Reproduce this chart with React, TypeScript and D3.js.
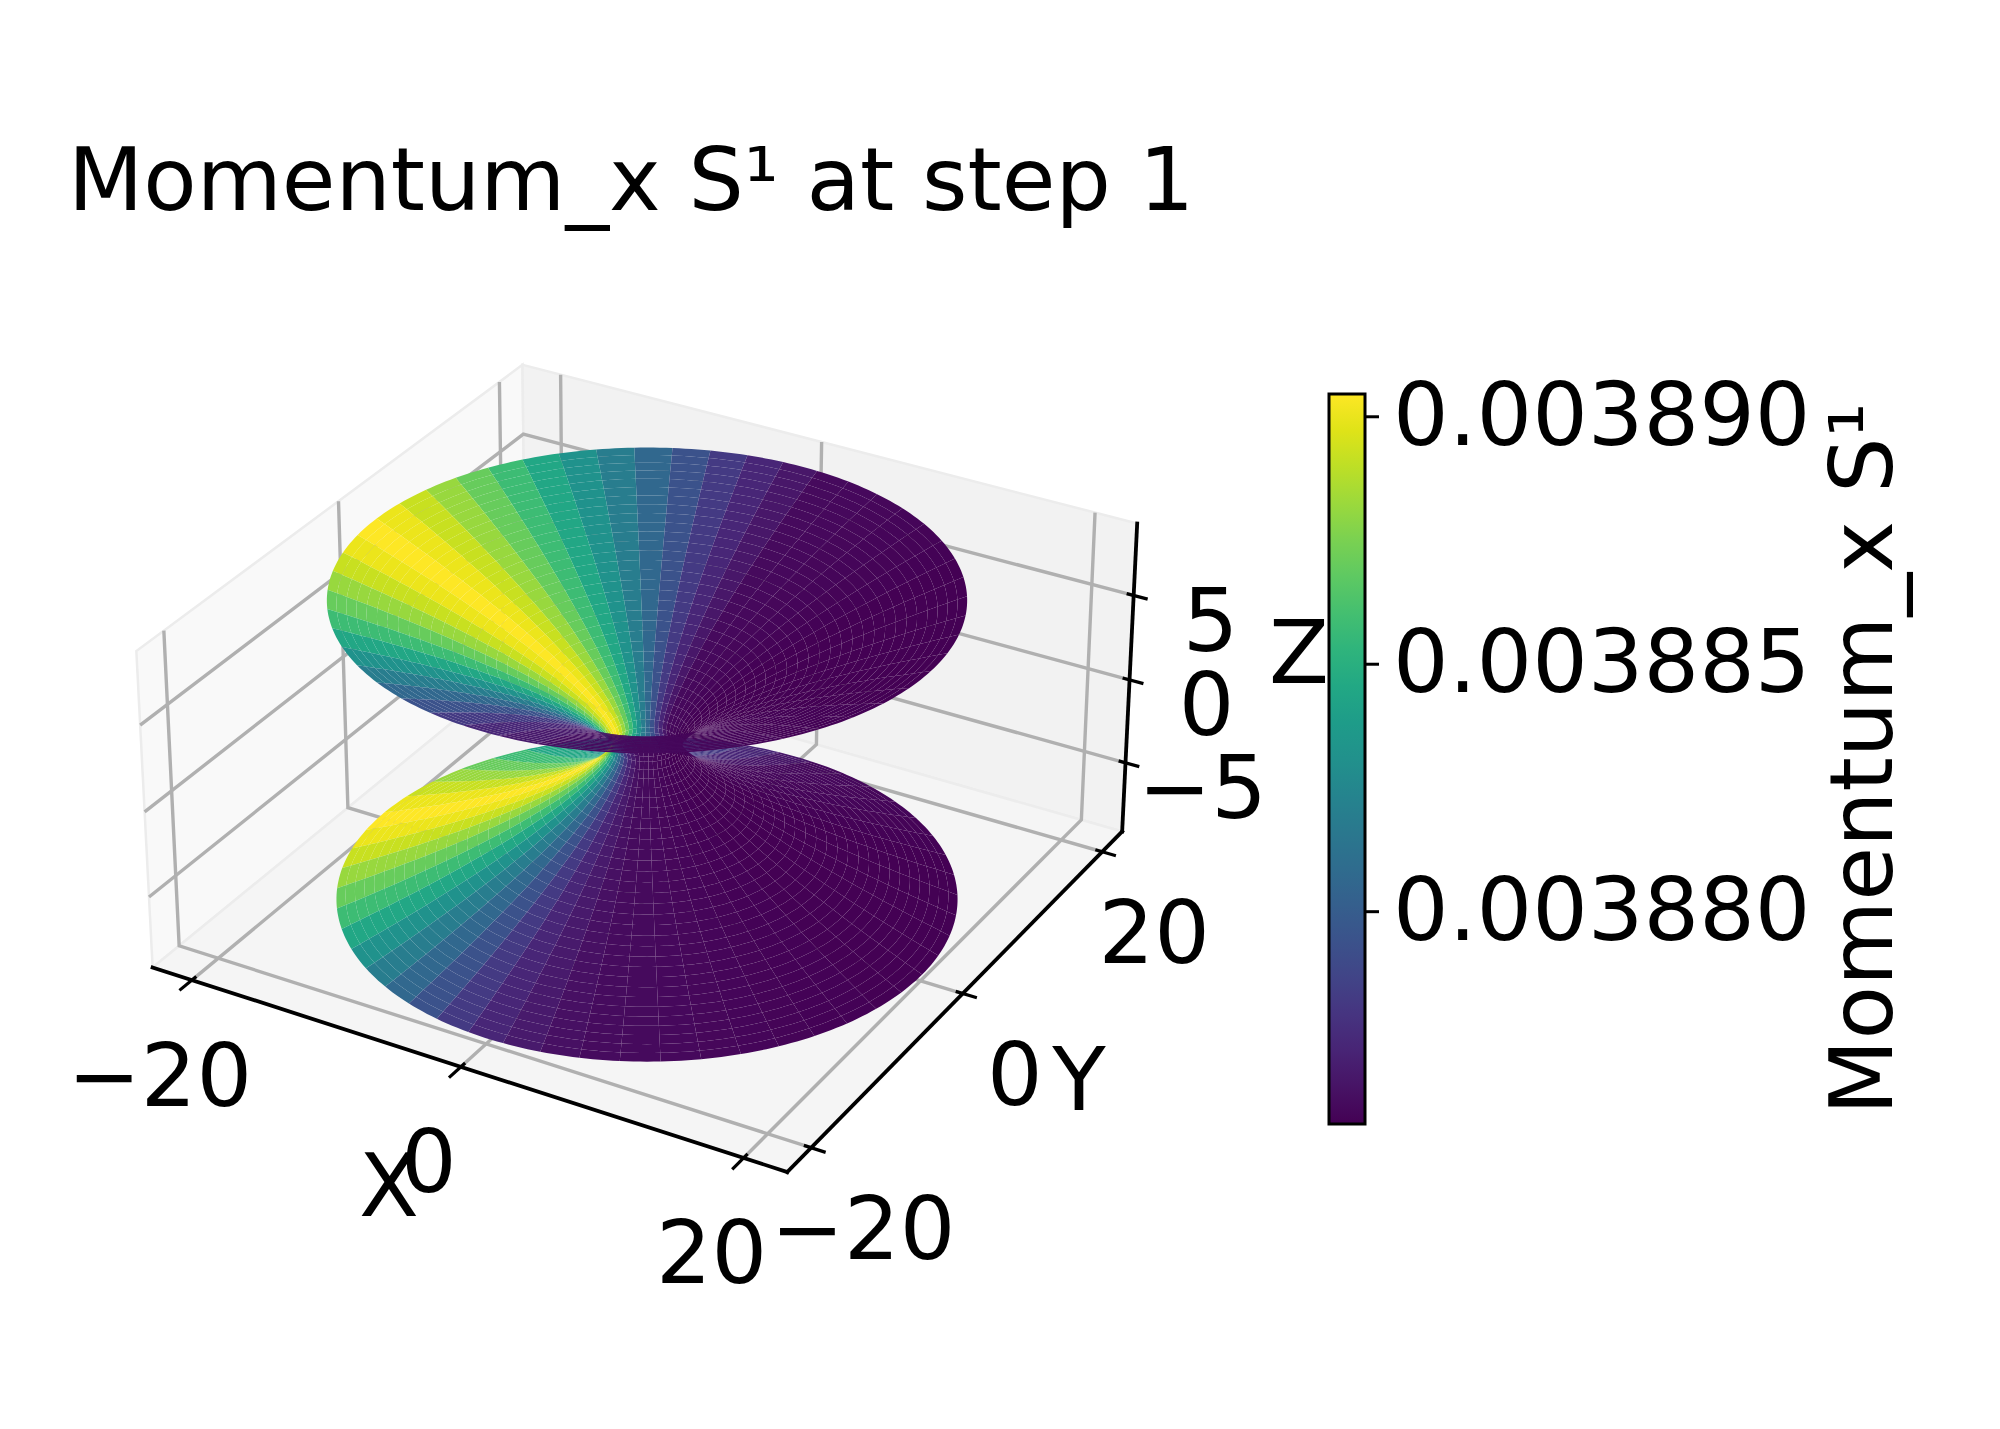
import { useEffect, useRef } from 'react';
import * as d3 from 'd3';

// Momentum_x S^1 per angular sector, in units of 1e-6 (50 sectors from theta = 0)
const momentumX = [
  3875.7, 3875.7, 3875.7, 3875.7, 3875.7, 3875.75, 3875.8, 3875.85, 3875.9, 3875.95,
  3876.0, 3876.1, 3876.6, 3877.3, 3878.2, 3879.4, 3880.6, 3881.9, 3883.2, 3884.5,
  3885.8, 3887.0, 3888.2, 3889.2, 3890.0, 3890.4, 3890.0, 3889.2, 3888.2, 3887.0,
  3885.8, 3884.5, 3883.2, 3881.9, 3880.6, 3879.4, 3878.2, 3877.3, 3876.7, 3876.3,
  3876.15, 3876.05, 3876.0, 3875.95, 3875.9, 3875.85, 3875.8, 3875.8, 3875.75, 3875.75,
];
const colorDomain = [3875.7, 3890.45];
const colorTicks = [3880, 3885, 3890];

const xyLim = 23;
const zLim = 9.2;
const xTicks = [-20, 0, 20];
const yTicks = [-20, 0, 20];
const zTicks = [-5, 0, 5];

// wormhole mesh
const throat = 2.2;
const rimRadius = 20.1;
const rimHeight = 8.8;
const profilePower = 1.5;
const ringCount = 60;
const arcSteps = 6;

const title = 'Momentum_x S\u00b9 at step 1';
const fontFamily = '"DejaVu Sans", sans-serif';
const fontSize = 87.5;

const elev = (30 * Math.PI) / 180;
const azim = (-60 * Math.PI) / 180;
const dist = 10;
const halfXY = 0.635;
const halfZ = 0.3175;
const viewScale = 5675;
const viewX = 647;
const viewY = 744.5;

const xToBox = d3.scaleLinear().domain([-xyLim, xyLim]).range([-halfXY, halfXY]);
const zToBox = d3.scaleLinear().domain([-zLim, zLim]).range([-halfZ, halfZ]);

const w = [Math.cos(elev) * Math.cos(azim), Math.cos(elev) * Math.sin(azim), Math.sin(elev)];
const u = [-Math.sin(azim), Math.cos(azim), 0];
const v = [w[1] * u[2] - w[2] * u[1], w[2] * u[0] - w[0] * u[2], w[0] * u[1] - w[1] * u[0]];

type P = { px: number; py: number; depth: number };

function project(x: number, y: number, z: number): P {
  const p = [xToBox(x), xToBox(y), zToBox(z)];
  const dot = (a: number[]) => a[0] * p[0] + a[1] * p[1] + a[2] * p[2];
  const depth = dist - dot(w);
  return {
    px: viewX + (viewScale * dot(u)) / depth,
    py: viewY - (viewScale * dot(v)) / depth,
    depth,
  };
}

const pathOf = d3.line<P>().x(d => d.px).y(d => d.py);

const App = () => {
  const svgRef = useRef<SVGSVGElement>(null);

  useEffect(() => {
    const svg = d3.select(svgRef.current);
    svg.selectAll('*').remove();

    const lo = -xyLim;
    const hi = xyLim;
    const zl = -zLim;
    const zh = zLim;

    // panes
    const panes = [
      { fill: '#f9f9f9', pts: [[lo, lo, zl], [lo, hi, zl], [lo, hi, zh], [lo, lo, zh]] },
      { fill: '#f2f2f2', pts: [[lo, hi, zl], [hi, hi, zl], [hi, hi, zh], [lo, hi, zh]] },
      { fill: '#f5f5f5', pts: [[lo, lo, zl], [hi, lo, zl], [hi, hi, zl], [lo, hi, zl]] },
    ];
    svg.append('g').selectAll('path').data(panes).join('path')
      .attr('d', d => pathOf(d.pts.map(c => project(c[0], c[1], c[2]))) + 'Z')
      .attr('fill', d => d.fill)
      .attr('stroke', '#ececec')
      .attr('stroke-width', 2.5);

    // grid lines
    const grid: number[][][] = [];
    xTicks.forEach(t => grid.push([[t, lo, zl], [t, hi, zl], [t, hi, zh]]));
    yTicks.forEach(t => grid.push([[hi, t, zl], [lo, t, zl], [lo, t, zh]]));
    zTicks.forEach(t => grid.push([[lo, lo, t], [lo, hi, t], [hi, hi, t]]));
    svg.append('g').selectAll('path').data(grid).join('path')
      .attr('d', d => pathOf(d.map(c => project(c[0], c[1], c[2]))))
      .attr('fill', 'none')
      .attr('stroke', '#b0b0b0')
      .attr('stroke-width', 3.4);

    // surface: rings are closer together towards the rim, arcs are subdivided so the rim stays round
    const color = d3.scaleSequential(d3.interpolateViridis).domain(colorDomain);
    const sectors = momentumX.length;
    const flare = (rimRadius - throat) / rimHeight ** profilePower;
    const rings = d3.range(ringCount + 1).map(i => {
      const t = (2 * i) / ringCount - 1;
      const a = Math.abs(t);
      return Math.sign(t) * rimHeight * (0.66 * a + 0.34 * (2 * a - a * a));
    });
    const meshPoint = (z: number, i: number) => {
      const theta = (2 * Math.PI * i) / sectors;
      const r = throat + flare * Math.abs(z) ** profilePower;
      return project(r * Math.cos(theta), r * Math.sin(theta), z);
    };
    const steps = d3.range(arcSteps + 1).map(k => k / arcSteps);
    const quads: { pts: P[]; depth: number; value: number }[] = [];
    for (let j = 0; j < ringCount; j++) {
      momentumX.forEach((value, i) => {
        const pts = [
          ...steps.map(k => meshPoint(rings[j], i + k)),
          ...steps.map(k => meshPoint(rings[j + 1], i + 1 - k)),
        ];
        quads.push({ pts, value, depth: d3.mean(pts, d => d.depth) as number });
      });
    }
    quads.sort((a, b) => b.depth - a.depth);
    svg.append('g').selectAll('path').data(quads).join('path')
      .attr('d', d => pathOf(d.pts) + 'Z')
      .attr('fill', d => color(d.value));

    // axis lines and ticks
    const axisLines = [
      [[lo, lo, zl], [hi, lo, zl]],
      [[hi, lo, zl], [hi, hi, zl]],
      [[hi, hi, zl], [hi, hi, zh]],
    ];
    const tickIn = 0.5;
    const tickOut = 1;
    const tickLines: number[][][] = [
      ...xTicks.map(t => [[t, lo + tickIn, zl], [t, lo - tickOut * 1.4, zl]]),
      ...yTicks.map(t => [[hi - tickIn, t, zl], [hi + tickOut, t, zl]]),
      ...zTicks.map(t => [[hi - tickIn, hi, t], [hi + tickOut, hi, t]]),
    ];
    svg.append('g').selectAll('path').data(axisLines).join('path')
      .attr('d', d => pathOf(d.map(c => project(c[0], c[1], c[2]))))
      .attr('fill', 'none').attr('stroke', '#000').attr('stroke-width', 3.8)
      .attr('stroke-linecap', 'square');
    svg.append('g').selectAll('path').data(tickLines).join('path')
      .attr('d', d => pathOf(d.map(c => project(c[0], c[1], c[2]))))
      .attr('fill', 'none').attr('stroke', '#000').attr('stroke-width', 3.2);

    // tick labels, offset from the projected tick
    const fmt = (t: number) => (t < 0 ? '\u2212' + Math.abs(t) : String(t));
    const labels = [
      ...xTicks.map(t => ({ t, at: project(t, lo, zl), dx: -32, dy: 94 })),
      ...yTicks.map(t => ({ t, at: project(hi, t, zl), dx: 52, dy: 80 })),
      ...zTicks.map(t => ({ t, at: project(hi, hi, t), dx: 77, dy: 24 })),
    ];
    const text = svg.append('g')
      .attr('font-family', fontFamily)
      .attr('font-size', fontSize)
      .attr('fill', '#000');
    text.selectAll('text.tick').data(labels).join('text')
      .attr('class', 'tick')
      .attr('x', d => d.at.px + d.dx)
      .attr('y', d => d.at.py + d.dy)
      .attr('dy', '0.36em')
      .attr('text-anchor', 'middle')
      .text(d => fmt(d.t));

    const axisNames = [
      { name: 'X', x: 389, y: 1184 },
      { name: 'Y', x: 1079, y: 1078 },
      { name: 'Z', x: 1299, y: 651 },
    ];
    text.selectAll('text.name').data(axisNames).join('text')
      .attr('class', 'name')
      .attr('x', d => d.x)
      .attr('y', d => d.y)
      .attr('dy', '0.36em')
      .attr('text-anchor', 'middle')
      .text(d => d.name);

    text.append('text').attr('x', 68).attr('y', 210).attr('font-size', 87.3).text(title);

    // colorbar
    const barLeft = 1329;
    const barWidth = 36;
    const barTop = 394;
    const barBottom = 1124;
    const barScale = d3.scaleLinear().domain(colorDomain).range([barBottom, barTop]);
    const gradient = svg.append('defs').append('linearGradient')
      .attr('id', 'viridis-bar')
      .attr('x1', 0).attr('x2', 0).attr('y1', 1).attr('y2', 0);
    gradient.selectAll('stop').data(d3.range(0, 1.001, 0.05)).join('stop')
      .attr('offset', d => d)
      .attr('stop-color', d => d3.interpolateViridis(d));
    svg.append('rect')
      .attr('x', barLeft).attr('y', barTop)
      .attr('width', barWidth).attr('height', barBottom - barTop)
      .attr('fill', 'url(#viridis-bar)')
      .attr('stroke', '#000').attr('stroke-width', 3);

    const barAxis = svg.append('g')
      .attr('transform', `translate(${barLeft + barWidth},0)`)
      .call(d3.axisRight(barScale)
        .tickValues(colorTicks)
        .tickSize(14)
        .tickPadding(14)
        .tickFormat(d => (Number(d) / 1e6).toFixed(6)));
    barAxis.select('.domain').remove();
    barAxis.selectAll('line').attr('stroke', '#000').attr('stroke-width', 3);
    barAxis.selectAll('text')
      .attr('font-family', fontFamily)
      .attr('font-size', fontSize)
      .attr('fill', '#000');

    text.append('text')
      .attr('transform', 'translate(1892,1115) rotate(-90)')
      .text('Momentum_x S\u00b9');
  }, []);

  return (
    <svg ref={svgRef} width={2000} height={1429}
      style={{ position: 'absolute', left: 0, top: 0, background: '#fff' }} />
  );
};

export default App;
